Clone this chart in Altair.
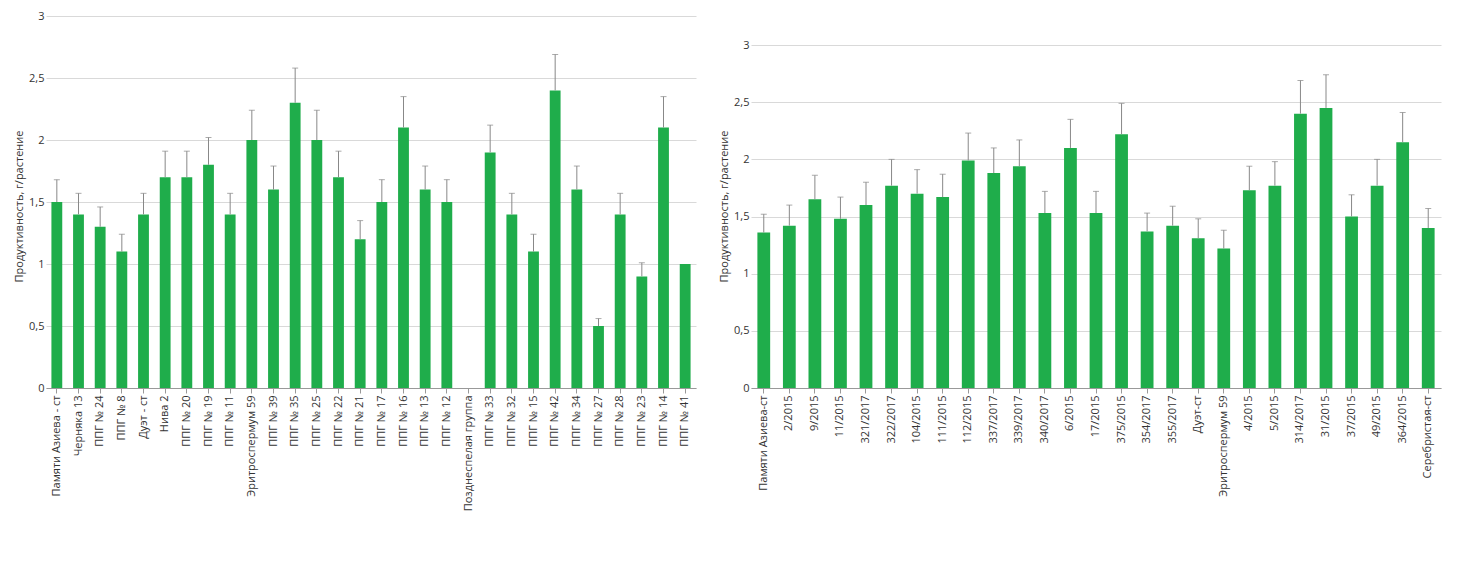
import altair as alt
import pandas as pd

FONT = "Open Sans"
GREEN = "#1fad4b"

left_names = [
    "Памяти Азиева - ст", "Черняка 13", "ППГ № 24", "ППГ № 8", "Дуэт - ст", "Нива 2",
    "ППГ № 20", "ППГ № 19", "ППГ № 11", "Эритроспермум 59", "ППГ № 39", "ППГ № 35",
    "ППГ № 25", "ППГ № 22", "ППГ № 21", "ППГ № 17", "ППГ № 16", "ППГ № 13", "ППГ № 12",
    "Позднеспелая группа", "ППГ № 33", "ППГ № 32", "ППГ № 15", "ППГ № 42", "ППГ № 34",
    "ППГ № 27", "ППГ № 28", "ППГ № 23", "ППГ № 14", "ППГ № 41",
]
left_vals = [1.5, 1.4, 1.3, 1.1, 1.4, 1.7, 1.7, 1.8, 1.4, 2.0, 1.6, 2.3, 2.0, 1.7, 1.2,
             1.5, 2.1, 1.6, 1.5, None, 1.9, 1.4, 1.1, 2.4, 1.6, 0.5, 1.4, 0.9, 2.1, 1.0]
left_err = [1.68, 1.57, 1.46, 1.24, 1.57, 1.91, 1.91, 2.02, 1.57, 2.24, 1.79, 2.58, 2.24,
            1.91, 1.35, 1.68, 2.35, 1.79, 1.68, None, 2.12, 1.57, 1.24, 2.69, 1.79, 0.56,
            1.57, 1.01, 2.35, None]

right_names = [
    "Памяти Азиева-ст", "2/2015", "9/2015", "11/2015", "321/2017", "322/2017", "104/2015",
    "111/2015", "112/2015", "337/2017", "339/2017", "340/2017", "6/2015", "17/2015",
    "375/2015", "354/2017", "355/2017", "Дуэт-ст", "Эритроспермум 59", "4/2015", "5/2015",
    "314/2017", "31/2015", "37/2015", "49/2015", "364/2015", "Серебристая-ст",
]
right_vals = [1.36, 1.42, 1.65, 1.48, 1.6, 1.77, 1.7, 1.67, 1.99, 1.88, 1.94, 1.53, 2.1,
              1.53, 2.22, 1.37, 1.42, 1.31, 1.22, 1.73, 1.77, 2.4, 2.45, 1.5, 1.77, 2.15, 1.4]
right_err = [1.52, 1.6, 1.86, 1.67, 1.8, 2.0, 1.91, 1.87, 2.23, 2.1, 2.17, 1.72, 2.35,
             1.72, 2.49, 1.53, 1.59, 1.48, 1.38, 1.94, 1.98, 2.69, 2.74, 1.69, 2.0, 2.41, 1.57]

YTITLE = "Продуктивность, г/растение"


def panel(names, vals, errs, width, height, ymax):
    df = pd.DataFrame({"name": names, "v": vals, "e": errs})
    x = alt.X("name:N", sort=names, title=None,
              axis=alt.Axis(labelAngle=-90, labelFontSize=11, ticks=True,
                            labelColor="#333", domainColor="#999", tickColor="#999"),
              scale=alt.Scale(paddingInner=0.5, paddingOuter=0.25))
    y = alt.Y("v:Q", title=YTITLE,
              scale=alt.Scale(domain=[0, ymax], nice=False),
              axis=alt.Axis(values=[0, 0.5, 1, 1.5, 2, 2.5, 3],
                            labelExpr="replace(format(datum.value, '.1~f'), '.', ',')",
                            gridColor="#d9d9d9", domain=False, ticks=False,
                            labelFontSize=11, titleFontSize=11, titleFontWeight="normal",
                            labelColor="#333", titleColor="#333", titleY=190))
    base = alt.Chart(df)
    bars = base.mark_bar(color=GREEN).encode(x=x, y=y)
    rule = base.mark_rule(color="#888").encode(x=x, y="v:Q", y2="e:Q")
    cap = base.mark_tick(color="#888", width=6, thickness=1).encode(x=x, y="e:Q")
    return (bars + rule + cap).properties(width=width, height=height)


left = panel(left_names, left_vals, left_err, 650, 372, 3)
right = panel(right_names, right_vals, right_err, 690, 372, 3.254)

chart = (
    alt.hconcat(left, right, spacing=22)
    .properties(padding={"left": 5, "top": 2, "right": 5, "bottom": 5})
    .configure(font=FONT)
    .configure_view(stroke=None)
)
chart.save("out.html", embed_options={"renderer": "svg", "actions": False})
